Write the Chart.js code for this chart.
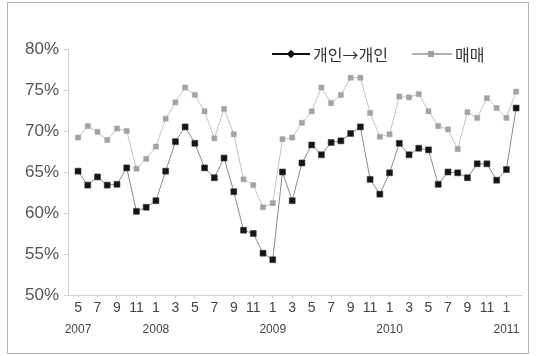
<!DOCTYPE html>
<html>
<head>
<meta charset="utf-8">
<script src="https://cdn.jsdelivr.net/npm/chart.js@4/dist/chart.umd.min.js"></script>
<style>
  html, body { margin: 0; padding: 0; background: #fff; }
  #wrap { position: relative; width: 537px; height: 356px; overflow: hidden; }
  #frame { position: absolute; left: 7px; top: 2px; width: 522px; height: 352px; border: 1px solid #b5b5b5; box-sizing: border-box; }
  canvas { position: absolute; left: 0; top: 0; }
  .lg { position: absolute; font-family: "Noto Sans CJK KR", sans-serif; font-size: 16px; color: #333; line-height: 20px; top: 44px; }
  .ln { position: absolute; }
  .mk { position: absolute; }
</style>
</head>
<body>
<div id="wrap">
  <div id="frame"></div>
  <canvas id="c" width="537" height="356"></canvas>
  <!-- legend -->
  <div class="ln" style="left:272px;top:53px;width:38px;height:2px;background:#111;"></div>
  <div class="mk" style="left:288px;top:51px;width:6px;height:6px;background:#111;transform:rotate(45deg);"></div>
  <div class="lg" style="left:313px;">개인→개인</div>
  <div class="ln" style="left:412px;top:53px;width:40px;height:1.5px;background:#b0b0b0;"></div>
  <div class="mk" style="left:428px;top:51px;width:6px;height:6px;background:#a0a0a0;"></div>
  <div class="lg" style="left:455px;">매매</div>
</div>
<script>
// Monthly share (%), May 2007 – Feb 2011
const seriesNames = ['개인→개인', '매매'];
const personalToPersonal = [65.1, 63.4, 64.4, 63.4, 63.5, 65.5, 60.2, 60.7, 61.5, 65.1,
  68.7, 70.5, 68.5, 65.5, 64.3, 66.7, 62.6, 57.9, 57.5, 55.1,
  54.3, 65.0, 61.5, 66.1, 68.3, 67.1, 68.6, 68.8, 69.7, 70.5,
  64.1, 62.3, 64.9, 68.5, 67.1, 67.9, 67.7, 63.5, 65.0, 64.9,
  64.3, 66.0, 66.0, 64.0, 65.3, 72.8];
const allTrades = [69.2, 70.6, 69.9, 68.9, 70.3, 70.0, 65.4, 66.6, 68.1, 71.5,
  73.5, 75.3, 74.4, 72.4, 69.1, 72.7, 69.6, 64.1, 63.4, 60.7,
  61.2, 69.0, 69.2, 71.0, 72.4, 75.3, 73.4, 74.4, 76.5, 76.5,
  72.2, 69.3, 69.6, 74.2, 74.1, 74.5, 72.4, 70.6, 70.2, 67.8,
  72.3, 71.6, 74.0, 72.8, 71.6, 74.8];
// Tick labels: one every two months, with the year under January
const monthTicks = ['5', '7', '9', '11', '1', '3', '5', '7', '9', '11', '1', '3',
  '5', '7', '9', '11', '1', '3', '5', '7', '9', '11', '1'];
const yearTicks = ['2007', '', '', '', '2008', '', '', '', '', '', '2009', '',
  '', '', '', '', '2010', '', '', '', '', '', '2011'];
const yTicks = [50, 55, 60, 65, 70, 75, 80];

const toXY = arr => arr.map((v, i) => ({ x: i, y: v }));
const tickValues = () => monthTicks.map((_, k) => ({ value: k * 2 }));

const axisColor = '#cfcfcf';
const narrow = '"Liberation Sans Narrow", "Liberation Sans", Arial, sans-serif';

new Chart(document.getElementById('c'), {
  type: 'line',
  data: {
    datasets: [
      {
        label: seriesNames[1],
        data: toXY(allTrades),
        borderColor: '#c4c4c4',
        borderWidth: 1,
        pointStyle: 'rect',
        pointRadius: 3.6,
        pointBackgroundColor: '#a3a3a3',
        pointBorderColor: '#a3a3a3',
        pointBorderWidth: 0.5,
        tension: 0
      },
      {
        label: seriesNames[0],
        data: toXY(personalToPersonal),
        borderColor: '#8a8a8a',
        borderWidth: 1,
        pointStyle: 'rect',
        pointRadius: 4.2,
        pointBackgroundColor: '#141414',
        pointBorderColor: '#3a3a3a',
        pointBorderWidth: 0.6,
        tension: 0
      }
    ]
  },
  options: {
    responsive: false,
    animation: false,
    devicePixelRatio: 1,
    layout: { padding: { left: 0, right: 16, top: 49, bottom: 19 } },
    plugins: { legend: { display: false }, tooltip: { enabled: false } },
    scales: {
      x: {
        type: 'linear',
        position: 'bottom',
        min: -1.03,
        max: 45.5,
        afterBuildTicks: s => { s.ticks = tickValues(); },
        afterFit: s => { s.height = 22; },
        grid: { drawOnChartArea: false, tickLength: 3, color: axisColor },
        border: { color: axisColor, width: 1 },
        ticks: {
          autoSkip: false,
          maxRotation: 0,
          padding: 2,
          color: '#444',
          font: { family: narrow, size: 14 },
          callback: (v, i) => monthTicks[i]
        }
      },
      years: {
        type: 'linear',
        position: 'bottom',
        min: -1.03,
        max: 45.5,
        afterBuildTicks: s => { s.ticks = tickValues(); },
        afterFit: s => { s.height = 20; },
        grid: { display: false, drawTicks: false },
        border: { display: false },
        ticks: {
          autoSkip: false,
          maxRotation: 0,
          padding: 5,
          color: '#444',
          font: { family: narrow, size: 12 },
          callback: (v, i) => yearTicks[i]
        }
      },
      y: {
        min: 50,
        max: 80,
        afterBuildTicks: s => { s.ticks = yTicks.map(v => ({ value: v })); },
        afterFit: s => { s.width = 68; },
        grid: { drawOnChartArea: false, tickLength: 4, color: axisColor },
        border: { color: axisColor, width: 1 },
        ticks: {
          padding: 5,
          color: '#555',
          font: { family: '"Liberation Sans", Arial, sans-serif', size: 17 },
          callback: v => v + '%'
        }
      }
    }
  }
});
</script>
</body>
</html>
